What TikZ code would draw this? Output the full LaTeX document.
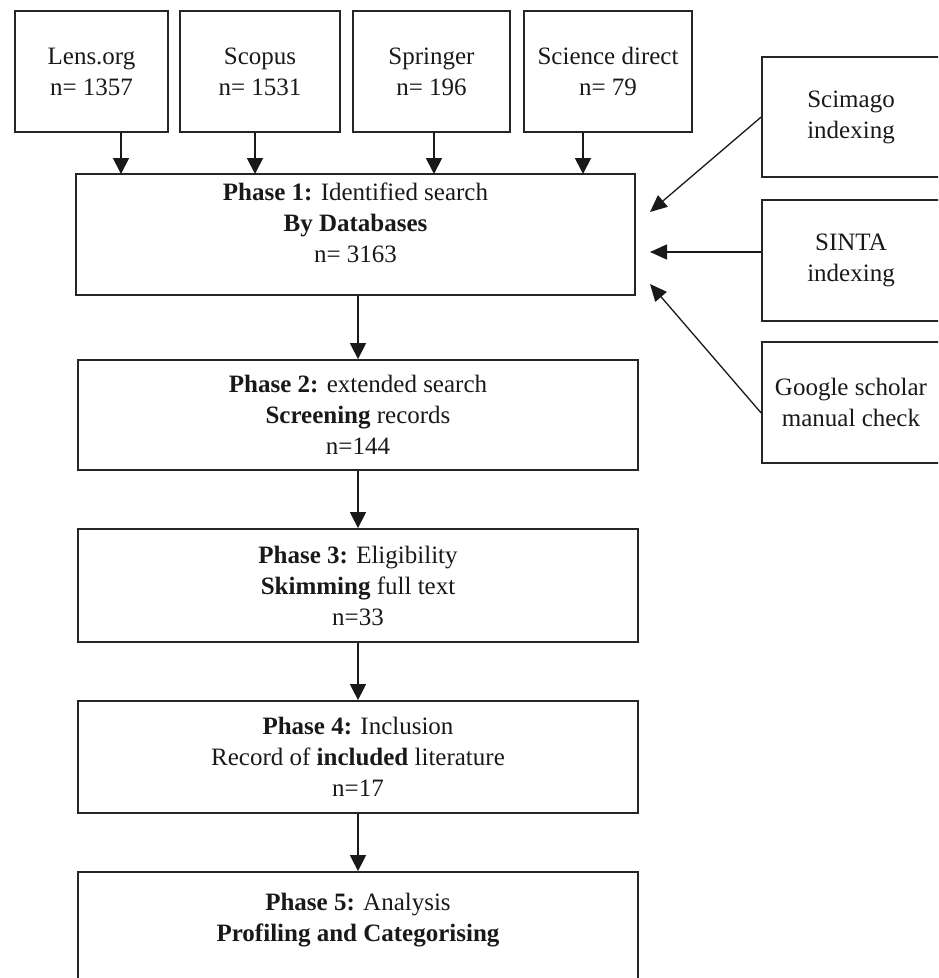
\documentclass[tikz,border=0pt]{standalone}
\usepackage{fontspec}
\setmainfont{Liberation Serif}
\usetikzlibrary{arrows.meta,positioning,calc}

\tikzset{
  srcbox/.style={draw=black!85, line width=1.8pt, inner sep=0pt, align=center, minimum height=121pt},
  phasebox/.style={draw=black!85, line width=1.8pt, inner sep=0pt, align=center, minimum width=560pt},
  idxbox/.style={draw=black!85, line width=1.6pt, inner sep=0pt, align=center, minimum width=178pt, minimum height=120pt},
  arr/.style={-{Triangle[length=16pt,width=16pt]}, line width=1.8pt, draw=black!90},
  sidearr/.style={-{Triangle[length=17pt,width=15pt]}, line width=1.3pt, draw=black!90},
}

\begin{document}
\begin{tikzpicture}[x=1pt, y=-1pt, font=\fontsize{25}{31}\selectfont, text=black!90]
  \useasboundingbox (0,0) rectangle (938,978);
  \clip (0,0) rectangle (938,978);

  % databases
  \node (lens) [srcbox, minimum width=153pt] at (91.5,71.5) {Lens.org\\n= 1357};
  \node (scopus) [srcbox, minimum width=160pt] at (260,71.5) {Scopus\\n= 1531};
  \node (springer) [srcbox, minimum width=157pt] at (431.5,71.5) {Springer\\n= 196};
  \node (scidirect) [srcbox, minimum width=168pt] at (608,71.5) {Science direct\\n= 79};

  % phases
  \node (p1) [phasebox, minimum width=559pt, minimum height=121pt,
    label={[align=center, yshift=12pt]center:{\textbf{Phase 1:} Identified search\\\textbf{By Databases}\\n= 3163}}]
    at (355.5,234.5) {};
  \node (p2) [phasebox, minimum height=110pt] at (358,415)
    {\textbf{Phase 2:} extended search\\\textbf{Screening} records\\n=144};
  \node (p3) [phasebox, minimum height=113pt] at (358,585.5)
    {\textbf{Phase 3:} Eligibility\\\textbf{Skimming} full text\\n=33};
  \node (p4) [phasebox, minimum height=112pt] at (358,757)
    {\textbf{Phase 4:} Inclusion\\Record of \textbf{included} literature\\n=17};
  \node (p5) [phasebox, minimum height=130pt,
    label={[align=center, yshift=17pt]center:{\textbf{Phase 5:} Analysis\\\textbf{Profiling and Categorising}}}]
    at (358,937) {};

  % indexing checks
  \node (scimago) [idxbox] at (851,117) {Scimago\\indexing};
  \node (sinta) [idxbox, minimum height=121pt] at (851,260.5) {SINTA\\indexing};
  \node (google) [idxbox, minimum height=121pt] at (851,402.5) {Google scholar\\manual check};

  % arrows into phase 1
  \coordinate (in1) at (121,174);
  \coordinate (in2) at (255,174);
  \coordinate (in3) at (434,174);
  \coordinate (in4) at (583,174);
  \draw[arr] (lens.south -| in1) -- (in1);
  \draw[arr] (scopus.south -| in2) -- (in2);
  \draw[arr] (springer.south -| in3) -- (in3);
  \draw[arr] (scidirect.south -| in4) -- (in4);

  \coordinate (t1) at (650,212);
  \coordinate (t2) at (650,252);
  \coordinate (t3) at (650,284);
  \draw[sidearr] (scimago.west) -- (t1);
  \draw[sidearr] (sinta.west |- t2) -- (t2);
  \draw[sidearr] ($(google.west)+(0,10.5)$) -- (t3);

  % phase flow
  \draw[arr, line width=1.5pt] (p1.south -| p2.north) -- (p2.north);
  \draw[arr, line width=1.5pt] (p2) -- (p3);
  \draw[arr, line width=1.5pt] (p3) -- (p4);
  \draw[arr, line width=1.5pt] (p4) -- (p5);
\end{tikzpicture}
\end{document}
